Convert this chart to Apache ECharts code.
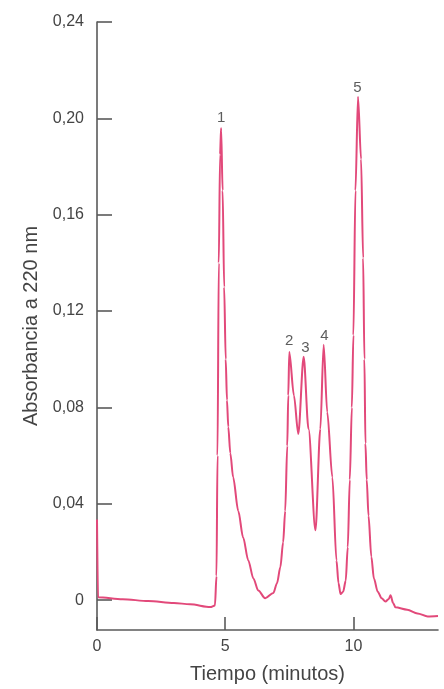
<!DOCTYPE html>
<html>
<head>
<meta charset="utf-8">
<script src="https://cdn.jsdelivr.net/npm/echarts@6/dist/echarts.min.js"></script>
<style>
html,body{margin:0;padding:0;background:#fff;}
#chart{width:444px;height:689px;}
</style>
</head>
<body>
<div id="chart"></div>
<script>
// Data
const timeMin = [0, 0.04, 1, 2, 3, 3.63, 4.42, 4.6, 4.66, 4.7, 4.75, 4.8, 4.84, 4.9, 4.96, 5.02, 5.07, 5.12, 5.2, 5.31, 5.51, 5.7, 5.9, 6.1, 6.29, 6.56, 6.88, 7.02, 7.15, 7.26, 7.34, 7.42, 7.46, 7.5, 7.68, 7.85, 8.06, 8.25, 8.52, 8.71, 8.84, 8.98, 9.18, 9.34, 9.42, 9.5, 9.6, 9.7, 9.78, 9.86, 9.94, 10.0, 10.08, 10.18, 10.3, 10.38, 10.43, 10.47, 10.52, 10.59, 10.7, 10.8, 10.95, 11.1, 11.25, 11.38, 11.45, 11.55, 11.64, 12.1, 12.5, 12.9, 13.3];
const absorbance = [0.0335, 0.0012, 0.0004, -0.0004, -0.0012, -0.0017, -0.0029, -0.0022, 0.01, 0.06, 0.14, 0.185, 0.196, 0.17, 0.13, 0.1, 0.083, 0.072, 0.061, 0.051, 0.037, 0.026, 0.0165, 0.009, 0.004, 0.0008, 0.003, 0.007, 0.0136, 0.024, 0.037, 0.064, 0.085, 0.103, 0.085, 0.069, 0.101, 0.071, 0.029, 0.071, 0.106, 0.078, 0.051, 0.0165, 0.007, 0.0025, 0.0035, 0.008, 0.022, 0.05, 0.08, 0.11, 0.17, 0.209, 0.183, 0.142, 0.1, 0.065, 0.05, 0.035, 0.018, 0.009, 0.0035, 0.0008, -0.0006, 0.0005, 0.002, -0.0012, -0.003, -0.004, -0.0055, -0.0068, -0.0066];

const peakNames = ['1', '2', '3', '4', '5'];
const peakTimes = [4.84, 7.5, 8.13, 8.87, 10.16];
const peakLabelY = [0.2003, 0.1078, 0.1049, 0.1099, 0.2127];

const yTicks = [0, 0.04, 0.08, 0.12, 0.16, 0.20, 0.24];
const xTicks = [0, 5, 10];

const xTitle = 'Tiempo (minutos)';
const yTitle = 'Absorbancia a 220 nm';

const lineData = timeMin.map((t, i) => [t, absorbance[i]]);
const peakData = peakTimes.map((t, i) => [t, peakLabelY[i], peakNames[i]]);

const textColor = '#444444';
const axisColor = '#5a5a5a';
const font = 'Liberation Sans, Arial, sans-serif';

const chart = echarts.init(document.getElementById('chart'), null, {renderer: 'canvas'});
chart.setOption({
  animation: false,
  backgroundColor: '#ffffff',
  grid: {left: 97, top: 22, right: 6, bottom: 56, containLabel: false},
  xAxis: {
    type: 'value', min: 0, max: 13.3,
    name: xTitle, nameLocation: 'middle', nameGap: 34,
    nameTextStyle: {color: textColor, fontSize: 20, fontFamily: font},
    splitLine: {show: false},
    axisLine: {show: true, onZero: false, lineStyle: {color: axisColor, width: 1.6}},
    axisTick: {show: true, inside: true, length: 13, customValues: xTicks, lineStyle: {color: axisColor, width: 1.6}},
    axisLabel: {customValues: xTicks, color: textColor, fontSize: 16, fontFamily: font, margin: 9}
  },
  yAxis: {
    type: 'value', min: -0.0124, max: 0.24,
    name: yTitle, nameLocation: 'middle', nameGap: 56, nameRotate: 90,
    nameTextStyle: {color: textColor, fontSize: 20, fontFamily: font},
    splitLine: {show: false},
    axisLine: {show: true, onZero: false, lineStyle: {color: axisColor, width: 1.6}},
    axisTick: {show: true, inside: true, length: 15, customValues: yTicks, lineStyle: {color: axisColor, width: 1.6}},
    axisLabel: {
      customValues: yTicks, color: textColor, fontSize: 16, fontFamily: font, margin: 13,
      formatter: v => (Math.abs(v) < 1e-9 ? '0' : v.toFixed(2).replace('.', ','))
    }
  },
  series: [
    {
      type: 'line', data: lineData, showSymbol: false, smooth: 0.3, smoothMonotone: 'x',
      lineStyle: {color: '#e2497a', width: 2}, silent: true, z: 3
    },
    {
      type: 'scatter', data: peakData, symbolSize: 1, silent: true,
      itemStyle: {color: 'rgba(0,0,0,0)'},
      label: {show: true, position: 'inside', formatter: p => p.data[2], color: '#333', fontSize: 15, fontFamily: font}
    }
  ]
});
</script>
</body>
</html>
